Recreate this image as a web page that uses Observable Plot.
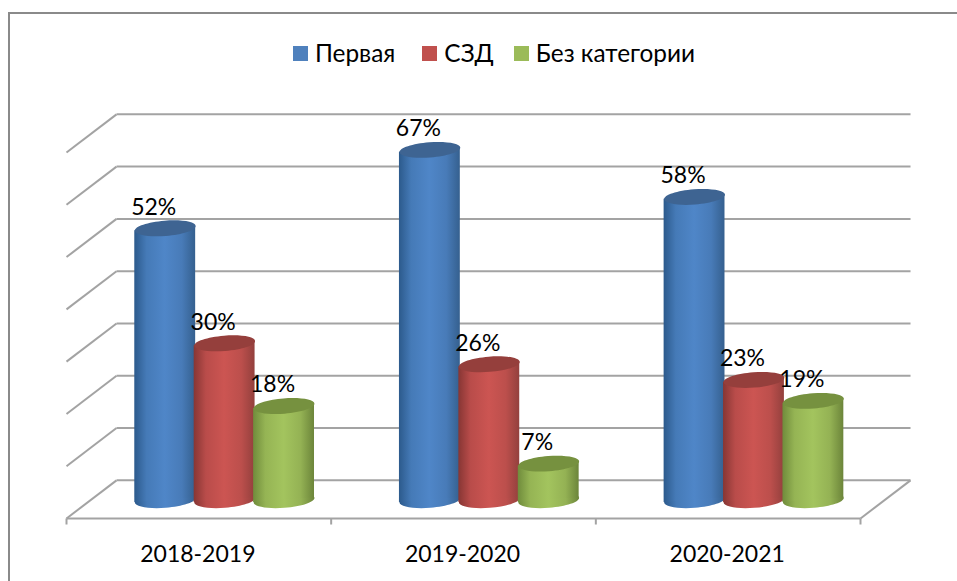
<!DOCTYPE html>
<html lang="ru">
<head>
<meta charset="utf-8">
<script src="https://cdn.jsdelivr.net/npm/d3@7"></script>
<script src="https://cdn.jsdelivr.net/npm/@observablehq/plot@0.6"></script>
<style>
  html, body { margin: 0; padding: 0; background: #fff; }
  #wrap { position: relative; width: 957px; height: 581px; overflow: hidden; font-family: Lato, "Open Sans", sans-serif; color: #000; }
  #frame { position: absolute; left: 8px; top: 12px; width: 1000px; height: 600px; border: 2px solid #8a8a8a; box-sizing: content-box; }
  #legend { position: absolute; left: 293px; top: 37px; display: flex; align-items: center; font-size: 24.4px; line-height: 32px; white-space: nowrap; }
  #legend i { display: inline-block; width: 15px; height: 15px; margin-right: 7px; }
  #legend span { display: inline-flex; align-items: center; margin-right: 27px; }
  #legend span:nth-child(2) { margin-right: 20px; }
  svg { position: absolute; left: 0; top: 0; }
</style>
</head>
<body>
<div id="wrap">
  <div id="frame"></div>
  <div id="legend"></div>
</div>
<script>
const years = ["2018-2019", "2019-2020", "2020-2021"];
const seriesNames = ["Первая", "СЗД", "Без категории"];
const pervaya = [52, 67, 58];
const szd = [30, 26, 23];
const bezKategorii = [18, 7, 19];
const gridValues = [0, 10, 20, 30, 40, 50, 60, 70];
const legendColors = ["#4f81bd", "#c0504d", "#9bbb59"];

const seriesValues = [pervaya, szd, bezKategorii];
const looks = [
  {id: "blue",  edgeL: "#2c5a8c", mid: "#4f86c8", edgeR: "#35608f", cap: "#3e6492"},
  {id: "red",   edgeL: "#873634", mid: "#cc5552", edgeR: "#93403d", cap: "#953f3c"},
  {id: "green", edgeL: "#708c3c", mid: "#a3c45e", edgeR: "#6c853a", cap: "#76913f"}
];

// Pseudo-3D projection in data units
const depthX = 0.189;   // floor depth, categories
const depthY = 7.3;     // floor depth, percent
const baseY = 3.5;      // bars stand mid-floor
const tilt = 0.46;      // rise of a cap's ends, percent
const barW = 0.23;      // bar width, categories
const barStep = 0.2245;
const groupCx = i => i + 0.503 + depthX / 2;

const rows = [];
seriesValues.forEach((vals, s) => vals.forEach((v, i) => {
  const cx = groupCx(i) + (s - 1) * barStep;
  rows.push({s, i, v, cx, y0: baseY, y1: v + baseY, label: v + "%"});
}));

// Each cylinder side: a two-point area, sloped to meet the tilted caps
const sides = rows.flatMap(r => [
  {s: r.s, key: r.i, x: r.cx - barW / 2, y0: r.y0 - tilt, y1: r.y1 - tilt},
  {s: r.s, key: r.i, x: r.cx + barW / 2, y0: r.y0 + tilt, y1: r.y1 + tilt}
]);

// Tilted ellipse symbol for cylinder caps
const cap = {
  draw(ctx, size) {
    const rx = Math.sqrt(size / Math.PI), ry = rx / 4, t = -4.5 * Math.PI / 180;
    const c = Math.cos(t), s = Math.sin(t), k = 0.5523;
    const P = (a, b) => [a * rx * c - b * ry * s, a * rx * s + b * ry * c];
    ctx.moveTo(...P(1, 0));
    [[1,k,k,1,0,1],[-k,1,-1,k,-1,0],[-1,-k,-k,-1,0,-1],[k,-1,1,-k,1,0]].forEach(q => {
      ctx.bezierCurveTo(...P(q[0],q[1]), ...P(q[2],q[3]), ...P(q[4],q[5]));
    });
    ctx.closePath();
  }
};

function defs() {
  const d = d3.create("svg:defs");
  looks.forEach(l => {
    const g = d.append("linearGradient").attr("id", "grad-" + l.id).attr("x1", 0).attr("x2", 1).attr("y1", 0).attr("y2", 0);
    const midL = d3.interpolateRgb(l.edgeL, l.mid)(0.72), midR = d3.interpolateRgb(l.edgeR, l.mid)(0.72);
    [[0, l.edgeL], [0.2, midL], [0.5, l.mid], [0.78, midR], [1, l.edgeR]].forEach(([o, col]) => g.append("stop").attr("offset", o).attr("stop-color", col));
  });
  return d.node();
}

const gridStyle = {stroke: "#a3a3a3", strokeWidth: 2};
const floor = [{x1: 0, y1: 0, x2: 3, y2: 0}, {x1: 3, y1: 0, x2: 3 + depthX, y2: depthY}];
const ticks = [0, 1, 2, 3];
const tickLen = 1.15;

const seriesMarks = looks.flatMap((l, s) => {
  const d = rows.filter(r => r.s === s);
  const fill = `url(#grad-${l.id})`;
  return [
    Plot.dot(d, {x: "cx", y: "y0", r: 30.5, symbol: cap, fill, stroke: "none"}),
    Plot.area(sides.filter(p => p.s === s), {x1: "x", y1: "y0", y2: "y1", z: "key", fill}),
    Plot.dot(d, {x: "cx", y: "y1", r: 30.5, symbol: cap, fill: l.cap, stroke: "none"})
  ];
});

const chart = Plot.plot({
  width: 957,
  height: 581,
  margin: 0,
  style: {background: "transparent", fontFamily: "Lato, 'Open Sans', sans-serif"},
  x: {type: "linear", domain: [0, 3], range: [66, 860], axis: null},
  y: {type: "linear", domain: [0, 70], range: [518, 152], axis: null},
  marks: [
    defs,
    // back wall
    Plot.link(gridValues, {x1: depthX, x2: 3 + depthX, y1: v => v + depthY, y2: v => v + depthY, ...gridStyle}),
    // side wall
    Plot.link(gridValues, {x1: 0, x2: depthX, y1: v => v, y2: v => v + depthY, ...gridStyle}),
    // floor
    Plot.link(floor, {x1: "x1", x2: "x2", y1: "y1", y2: "y2", ...gridStyle}),
    // ticks
    Plot.link(ticks, {x1: d => d, x2: d => d, y1: 0, y2: -tickLen, ...gridStyle}),
    ...seriesMarks,
    Plot.text(rows, {x: "cx", y: "y1", text: "label", dx: -11.5, dy: -21, fontSize: 23, fill: "#000"}),
    Plot.text(years, {x: (d, i) => i + 0.5, y: 0, text: d => d, dx: -1, dy: 36, fontSize: 23, fill: "#000"})
  ]
});
document.getElementById("wrap").appendChild(chart);

const legend = d3.select("#legend");
seriesNames.forEach((name, i) => {
  const it = legend.append("span");
  it.append("i").style("background", legendColors[i]);
  it.append("b").style("font-weight", "normal").text(name);
});
</script>
</body>
</html>
